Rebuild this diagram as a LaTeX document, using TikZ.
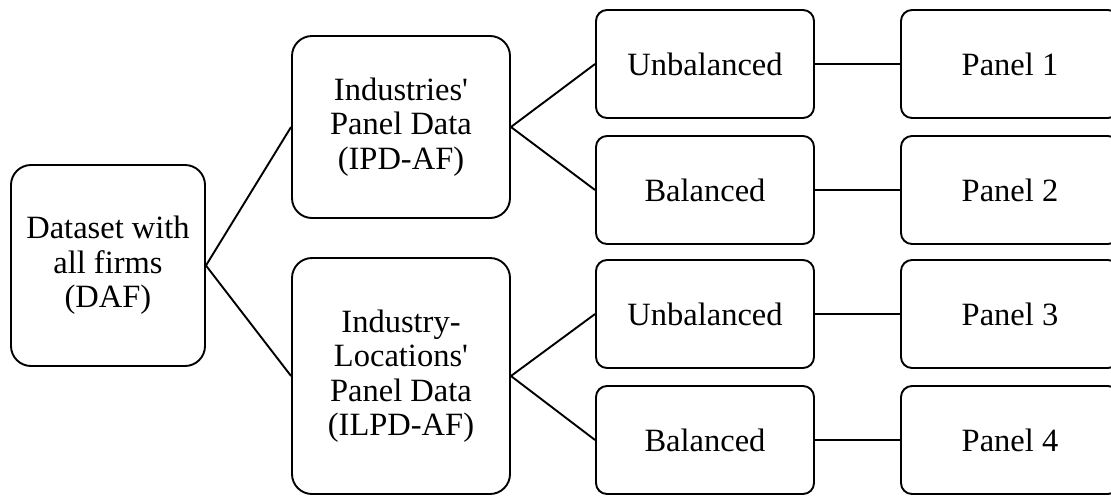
\documentclass[tikz,border=0pt]{standalone}
\usepackage{fontspec}
\setmainfont{Liberation Serif}[Ligatures=TeXOff]
\begin{document}
\begin{tikzpicture}[x=1pt,y=-1pt,
  box/.style={draw=black,line width=1.9pt,rounded corners=#1,inner sep=0pt,align=center,
    font=\fontsize{32.5}{34.5}\selectfont},
  box/.default=11pt,
  conn/.style={line width=1.9pt}]
\useasboundingbox (0,0) rectangle (1111,496);
\clip (0,0) rectangle (1111,496);
\node[box=20pt,minimum width=194pt,minimum height=201pt] (daf) at (108,265.5) {Dataset with\\all firms\\(DAF)};
\node[box=20pt,minimum width=218pt,minimum height=182pt] (ipd) at (401,127) {Industries'\\Panel Data\\(IPD-AF)};
\node[box=20pt,minimum width=218pt,minimum height=236pt] (ilpd) at (401,376) {Industry-\\Locations'\\Panel Data\\(ILPD-AF)};
\node[box,minimum width=218pt,minimum height=108pt] (u1) at (705,64) {Unbalanced};
\node[box,minimum width=218pt,minimum height=108pt] (b1) at (705,190) {Balanced};
\node[box,minimum width=218pt,minimum height=108pt] (u2) at (705,314) {Unbalanced};
\node[box,minimum width=218pt,minimum height=108pt] (b2) at (705,440) {Balanced};
\node[box,minimum width=218pt,minimum height=108pt] (p1) at (1010,64) {Panel 1};
\node[box,minimum width=218pt,minimum height=108pt] (p2) at (1010,190) {Panel 2};
\node[box,minimum width=218pt,minimum height=108pt] (p3) at (1010,314) {Panel 3};
\node[box,minimum width=218pt,minimum height=108pt] (p4) at (1010,440) {Panel 4};
\draw[conn] (ipd.west) -- (daf.east) -- (ilpd.west);
\draw[conn] (u1.west) -- (ipd.east) -- (b1.west);
\draw[conn] (u2.west) -- (ilpd.east) -- (b2.west);
\draw[conn] (u1) -- (p1);
\draw[conn] (b1) -- (p2);
\draw[conn] (u2) -- (p3);
\draw[conn] (b2) -- (p4);
\end{tikzpicture}
\end{document}
